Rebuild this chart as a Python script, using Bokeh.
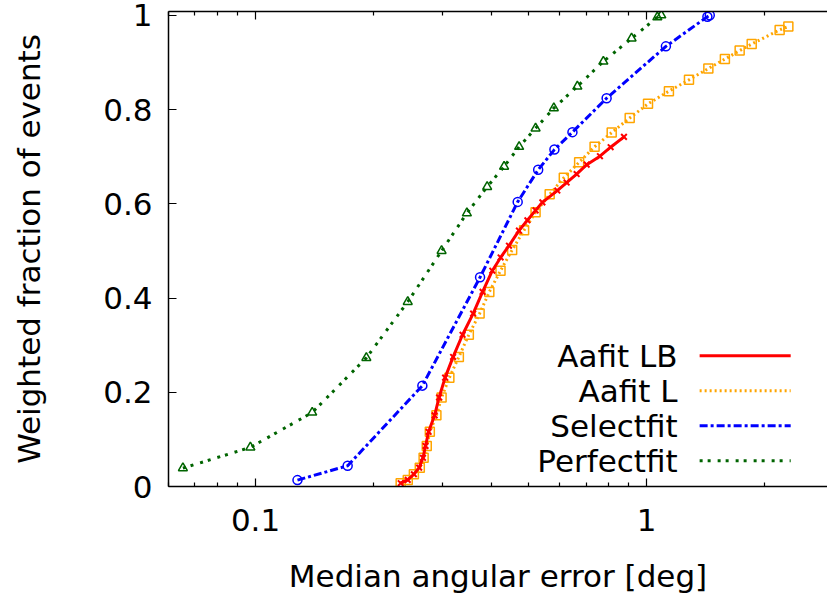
from bokeh.plotting import figure
from bokeh.models import Range1d, FixedTicker, LogAxis
from bokeh.core.properties import value
from bokeh.embed import file_html
from bokeh.resources import INLINE

# ---- data ----
perfect_x = [0.0652, 0.097, 0.1396, 0.192, 0.245, 0.299, 0.347, 0.391, 0.432, 0.472,
             0.520, 0.579, 0.665, 0.775, 0.915, 1.065, 1.09]
perfect_y = [0.039, 0.083, 0.157, 0.273, 0.392, 0.500, 0.580, 0.636, 0.679, 0.721,
             0.760, 0.803, 0.849, 0.902, 0.951, 0.996, 1.0]

select_x = [0.128, 0.172, 0.267, 0.375, 0.468, 0.528, 0.581, 0.646, 0.790, 1.120, 1.43, 1.45]
select_y = [0.0136, 0.044, 0.214, 0.444, 0.604, 0.672, 0.715, 0.752, 0.824, 0.934, 0.997, 1.0]

aafitl_x = [0.235, 0.245, 0.254, 0.263, 0.269, 0.274, 0.279, 0.290, 0.299, 0.313,
            0.331, 0.351, 0.374, 0.396, 0.423, 0.453, 0.486, 0.520, 0.565, 0.614,
            0.672, 0.736, 0.814, 0.905, 1.008, 1.140, 1.283, 1.438, 1.585, 1.729,
            1.856, 2.188, 2.303]
aafitl_y = [0.007, 0.014, 0.026, 0.040, 0.061, 0.086, 0.116, 0.151, 0.189, 0.231,
            0.275, 0.322, 0.367, 0.413, 0.458, 0.502, 0.544, 0.582, 0.620, 0.655,
            0.688, 0.721, 0.751, 0.782, 0.812, 0.839, 0.863, 0.887, 0.907, 0.925,
            0.939, 0.969, 0.976]

aafitlb_x = [0.235, 0.245, 0.254, 0.262, 0.268, 0.272, 0.277, 0.287, 0.2946, 0.3053,
             0.320, 0.3383, 0.360, 0.3806, 0.4031, 0.4233, 0.4446, 0.4715, 0.4955, 0.520,
             0.5412, 0.591, 0.6243, 0.6622, 0.7025, 0.7596, 0.809, 0.875]
aafitlb_y = [0.007, 0.014, 0.026, 0.040, 0.061, 0.086, 0.116, 0.151, 0.189, 0.231,
             0.275, 0.322, 0.367, 0.413, 0.458, 0.486, 0.511, 0.543, 0.565, 0.586,
             0.603, 0.628, 0.645, 0.663, 0.683, 0.701, 0.720, 0.742]

legend_labels = ["Aafit LB", "Aafit L", "Selectfit", "Perfectfit"]
x_ticks = [0.1, 1]
x_minor = [0.06, 0.07, 0.08, 0.09, 0.2, 0.3, 0.4, 0.5, 0.6, 0.7, 0.8, 0.9, 2]
y_ticks = [0, 0.2, 0.4, 0.6, 0.8, 1]

FONT = "DejaVu Sans"
FS = "31px"

p = figure(width=827, height=599, x_axis_type="log",
           x_range=Range1d(0.0599, 2.90), y_range=Range1d(0, 1.008),
           output_backend="svg", toolbar_location=None,
           min_border_left=168, min_border_right=0, min_border_top=11,
           min_border_bottom=113)
p.outline_line_color = None
p.xgrid.visible = False
p.ygrid.visible = False
p.background_fill_color = "white"
p.border_fill_color = "white"

styles = [
    dict(color="#FF0000", dash="solid", width=3),
    dict(color="#FFA500", dash="2 3", width=3),
    dict(color="#0000FF", dash="8 3 3 3", width=3),
    dict(color="#006400", dash="3 5 3 7", width=3),
]

# series lines
p.line(perfect_x, perfect_y, line_color=styles[3]["color"], line_dash=styles[3]["dash"], line_width=styles[3]["width"])
p.scatter(perfect_x, perfect_y, marker="triangle", size=9, fill_color=None,
          line_color=styles[3]["color"], line_width=1.5)

p.line(select_x, select_y, line_color=styles[2]["color"], line_dash=styles[2]["dash"], line_width=styles[2]["width"])
p.scatter(select_x, select_y, marker="circle", size=9, fill_color=None,
          line_color=styles[2]["color"], line_width=1.5)

p.line(aafitl_x, aafitl_y, line_color=styles[1]["color"], line_dash=styles[1]["dash"], line_width=styles[1]["width"])
p.scatter(aafitl_x, aafitl_y, marker="square", size=9, fill_color=None,
          line_color=styles[1]["color"], line_width=1.5)

p.line(aafitlb_x, aafitlb_y, line_color=styles[0]["color"], line_dash=styles[0]["dash"], line_width=styles[0]["width"])
p.scatter(aafitlb_x, aafitlb_y, marker="x", size=8,
          line_color=styles[0]["color"], line_width=2)

# legend (label right-aligned, sample line to the right)
leg_text_x = 1.20
leg_line_x0, leg_line_x1 = 1.366, 2.335
leg_y0, leg_dy = 0.2775, 0.0743
for i, lab in enumerate(legend_labels):
    yy = leg_y0 - i * leg_dy
    p.text(x=[leg_text_x], y=[yy], text=[lab], text_align="right", text_baseline="middle",
           text_font=value(FONT), text_font_size=FS, text_color="black")
    st = styles[i]
    p.line([leg_line_x0, leg_line_x1], [yy, yy], line_color=st["color"],
           line_dash=st["dash"], line_width=st["width"])

# axes
xax = p.xaxis[0]
xax.ticker = FixedTicker(ticks=x_ticks, minor_ticks=x_minor)
xax.major_label_overrides = {0.1: "0.1", 1: "1"}
yax = p.yaxis[0]
yax.ticker = FixedTicker(ticks=y_ticks)
yax.major_label_overrides = {0: "0", 0.2: "0.2", 0.4: "0.4", 0.6: "0.6", 0.8: "0.8", 1: "1"}
yax.minor_tick_line_color = None

for ax in (xax, yax):
    ax.axis_line_color = "black"
    ax.axis_line_width = 1.5
    ax.major_tick_in = 8
    ax.major_tick_out = 0
    ax.minor_tick_in = 4
    ax.minor_tick_out = 0
    ax.major_tick_line_width = 1.2
    ax.minor_tick_line_width = 1.2
    ax.major_label_text_font = FONT
    ax.major_label_text_font_size = FS
    ax.major_label_text_color = "black"
    ax.axis_label_text_font = FONT
    ax.axis_label_text_font_size = FS
    ax.axis_label_text_font_style = "normal"
    ax.axis_label_text_color = "black"

xax.axis_label = "Median angular error [deg]"
xax.major_label_standoff = 22
xax.axis_label_standoff = 24
yax.axis_label = "Weighted fraction of events"
yax.major_label_standoff = 16
yax.axis_label_standoff = 53

top = LogAxis(ticker=FixedTicker(ticks=x_ticks, minor_ticks=x_minor))
top.axis_line_width = 1.5
top.major_tick_in = 8
top.major_tick_out = 0
top.minor_tick_in = 4
top.minor_tick_out = 0
top.major_tick_line_width = 1.2
top.minor_tick_line_width = 1.2
top.major_label_overrides = {0.1: " ", 1: " "}
top.major_label_text_font_size = "1px"
top.major_label_standoff = 0
p.add_layout(top, "above")

open("out.html", "w").write(file_html(p, INLINE))
